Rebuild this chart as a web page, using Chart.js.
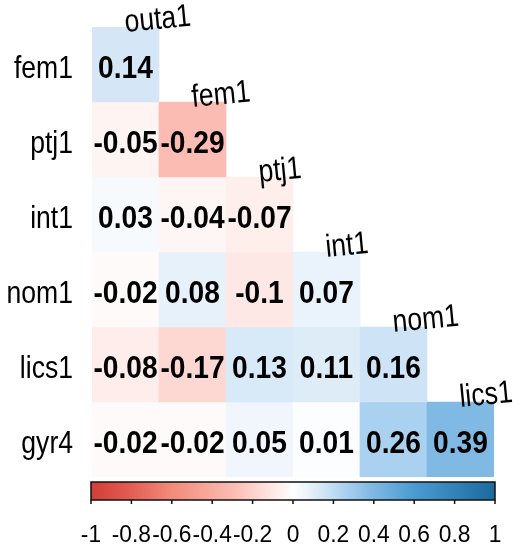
<!DOCTYPE html>
<html lang="en">
<head>
    <meta charset="UTF-8">
    <title>Correlation matrix</title>
    <script src="https://cdn.jsdelivr.net/npm/chart.js"></script>
    <style>
        html, body { margin: 0; padding: 0; background: white; }
        canvas { display: block; }
    </style>
</head>
<body>
    <canvas id="corrCanvas" width="521" height="550"></canvas>

    <script>
        // variables (columns run along the top diagonal, rows down the left)
        const colLabels = ["outa1", "fem1", "ptj1", "int1", "nom1", "lics1"];
        const rowLabels = ["fem1", "ptj1", "int1", "nom1", "lics1", "gyr4"];

        // lower triangle of the correlation matrix, one array per row
        const rowFem1  = [0.14];
        const rowPtj1  = [-0.05, -0.29];
        const rowInt1  = [0.03, -0.04, -0.07];
        const rowNom1  = [-0.02, 0.08, -0.1, 0.07];
        const rowLics1 = [-0.08, -0.17, 0.13, 0.11, 0.16];
        const rowGyr4  = [-0.02, -0.02, 0.05, 0.01, 0.26, 0.39];
        const corrRows = [rowFem1, rowPtj1, rowInt1, rowNom1, rowLics1, rowGyr4];

        // colour bar ticks
        const barTicks = [-1, -0.8, -0.6, -0.4, -0.2, 0, 0.2, 0.4, 0.6, 0.8, 1];
        const barTickLabels = ["-1", "-0.8", "-0.6", "-0.4", "-0.2", "0", "0.2", "0.4", "0.6", "0.8", "1"];

        // red - white - blue palette
        const stopValues = [-1, -0.8, -0.6, -0.29, 0, 0.14, 0.26, 0.39, 0.6, 1];
        const stopColors = ["#d23d38", "#e35e54", "#f28b7a", "#fbbdb3", "#ffffff",
                            "#d5e7f6", "#aad1ef", "#80b9e4", "#4a9bd2", "#1b6a9e"];

        function hexToRgb(h) {
            return [parseInt(h.substr(1, 2), 16), parseInt(h.substr(3, 2), 16), parseInt(h.substr(5, 2), 16)];
        }

        function colorFor(v) {
            for (let i = 0; i < stopValues.length - 1; i++) {
                if (v >= stopValues[i] && v <= stopValues[i + 1]) {
                    let t = (v - stopValues[i]) / (stopValues[i + 1] - stopValues[i]);
                    let a = hexToRgb(stopColors[i]), b = hexToRgb(stopColors[i + 1]);
                    let c = a.map((x, k) => Math.round(x + (b[k] - x) * t));
                    return `rgb(${c[0]},${c[1]},${c[2]})`;
                }
            }
            return stopColors[stopColors.length - 1];
        }

        // one floating bar dataset per row: [row, row + 1] on a reversed y scale
        let datasets = corrRows.map((vals, r) => ({
            label: rowLabels[r],
            data: colLabels.map((c, ci) => ci < vals.length ? [r, r + 1] : null),
            backgroundColor: colLabels.map((c, ci) => ci < vals.length ? colorFor(vals[ci]) : "rgba(0,0,0,0)"),
            borderWidth: 0,
            barPercentage: 1,
            categoryPercentage: 1,
            grouped: false
        }));

        function squeezedText(ctx, txt, x, y, align, sx, angle) {
            ctx.save();
            ctx.translate(x, y);
            ctx.rotate(angle || 0);
            ctx.scale(sx, 1);
            ctx.textAlign = align;
            ctx.textBaseline = "alphabetic";
            ctx.fillText(txt, 0, 0);
            ctx.restore();
        }

        const corrLabels = {
            id: "corrLabels",
            afterDatasetsDraw(chart) {
                const ctx = chart.ctx;
                const xs = chart.scales.x, ys = chart.scales.y;
                const cellW = xs.getPixelForValue(1) - xs.getPixelForValue(0);
                ctx.fillStyle = "#000";

                // cell values
                ctx.font = "bold 32px 'Liberation Sans', Arial, sans-serif";
                corrRows.forEach((vals, r) => {
                    let yMid = (ys.getPixelForValue(r) + ys.getPixelForValue(r + 1)) / 2;
                    vals.forEach((v, ci) => {
                        squeezedText(ctx, String(v), xs.getPixelForValue(ci), yMid + 13, "center", 0.88);
                    });
                });

                // row labels
                ctx.font = "32px 'Liberation Sans', Arial, sans-serif";
                rowLabels.forEach((lab, r) => {
                    let yMid = (ys.getPixelForValue(r) + ys.getPixelForValue(r + 1)) / 2;
                    squeezedText(ctx, lab, xs.getPixelForValue(0) - cellW / 2 - 19, yMid + 13, "right", 0.83);
                });

                // diagonal column labels
                colLabels.forEach((lab, ci) => {
                    let yTop = ys.getPixelForValue(ci);
                    squeezedText(ctx, lab, xs.getPixelForValue(ci), yTop + 5, "left", 0.83, -5.5 * Math.PI / 180);
                });

                // colour bar
                const left = chart.chartArea.left - 1, right = chart.chartArea.right + 1;
                const top = chart.chartArea.bottom + 5, bottom = chart.chartArea.bottom + 23;
                const grad = ctx.createLinearGradient(left, 0, right, 0);
                stopValues.forEach((v, i) => grad.addColorStop((v + 1) / 2, stopColors[i]));
                ctx.fillStyle = grad;
                ctx.fillRect(left, top, right - left, bottom - top);
                ctx.strokeStyle = "#111";
                ctx.lineWidth = 1.5;
                ctx.strokeRect(left, top, right - left, bottom - top);

                ctx.fillStyle = "#000";
                ctx.font = "24px 'Liberation Sans', Arial, sans-serif";
                barTicks.forEach((v, i) => {
                    let x = left + (v + 1) / 2 * (right - left);
                    ctx.beginPath();
                    ctx.moveTo(x, bottom);
                    ctx.lineTo(x, bottom + 4);
                    ctx.stroke();
                    squeezedText(ctx, barTickLabels[i], x, bottom + 42, "center", 0.95);
                });
            }
        };

        new Chart(document.getElementById("corrCanvas"), {
            type: "bar",
            data: { labels: colLabels, datasets: datasets },
            options: {
                responsive: false,
                animation: false,
                layout: { padding: { left: 92, right: 27, top: 27, bottom: 73 } },
                plugins: { legend: { display: false }, tooltip: { enabled: false } },
                scales: {
                    x: { display: false, offset: true, grid: { display: false } },
                    y: { display: false, min: 0, max: 6, reverse: true, grid: { display: false } }
                }
            },
            plugins: [corrLabels]
        });
    </script>
</body>
</html>
